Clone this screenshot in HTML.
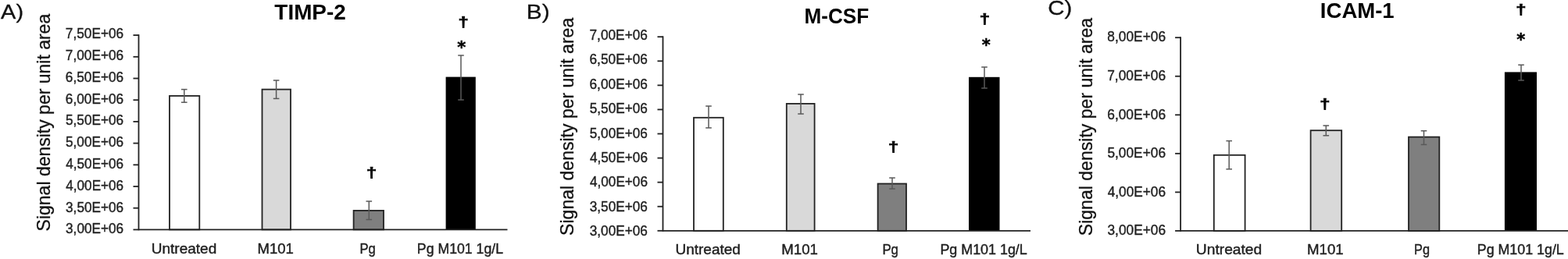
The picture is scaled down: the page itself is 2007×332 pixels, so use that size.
<!DOCTYPE html>
<html lang="en"><head><meta charset="utf-8"><title>Signal density charts</title>
<style>html,body{margin:0;padding:0;background:#fff;overflow:hidden}svg{display:block}text{font-family:'Liberation Sans', sans-serif;font-kerning:none}</style>
</head><body>
<svg xmlns="http://www.w3.org/2000/svg" width="2007" height="332" viewBox="0 0 2007 332">
<rect x="0" y="0" width="2007" height="332" fill="#fff"/>
<g>
<text x="1.14" y="23.8" font-size="25.5" text-anchor="start" fill="#111" textLength="28.95" lengthAdjust="spacingAndGlyphs" stroke="#111" stroke-width="0.3">A)</text>
<text x="351.39" y="24.5" font-size="27.5" font-weight="bold" text-anchor="start" fill="#000" textLength="91.33" lengthAdjust="spacingAndGlyphs">TIMP-2</text>
<text transform="translate(64.3,296.4) rotate(-90)" x="0" y="0" font-size="24" textLength="278.6" lengthAdjust="spacingAndGlyphs" fill="#111" stroke="#111" stroke-width="0.3">Signal density per unit area</text>
<rect x="217" y="122.9" width="38.3" height="171.5" fill="#fff" stroke="#222" stroke-width="1.8"/>
<rect x="335.5" y="114.6" width="36.5" height="179.8" fill="#d9d9d9" stroke="#222" stroke-width="1.8"/>
<rect x="452.6" y="269.9" width="38.4" height="24.5" fill="#7f7f7f" stroke="#222" stroke-width="1.8"/>
<rect x="570.6" y="98.6" width="38.2" height="195.8" fill="#000"/>
<line x1="177.5" y1="44.2" x2="177.5" y2="295.3" stroke="#222" stroke-width="1.8"/>
<line x1="177.5" y1="294.4" x2="649.5" y2="294.4" stroke="#222" stroke-width="1.8"/>
<line x1="170.5" y1="45.1" x2="177.5" y2="45.1" stroke="#222" stroke-width="1.8"/>
<text x="83.82" y="49.19" font-size="19" text-anchor="start" fill="#1f1f1f" textLength="74.34" lengthAdjust="spacingAndGlyphs" stroke="#1f1f1f" stroke-width="0.42">7,50E+06</text>
<line x1="170.5" y1="72.8" x2="177.5" y2="72.8" stroke="#222" stroke-width="1.8"/>
<text x="83.82" y="77.0" font-size="19" text-anchor="start" fill="#1f1f1f" textLength="74.34" lengthAdjust="spacingAndGlyphs" stroke="#1f1f1f" stroke-width="0.42">7,00E+06</text>
<line x1="170.5" y1="100.5" x2="177.5" y2="100.5" stroke="#222" stroke-width="1.8"/>
<text x="83.82" y="104.81" font-size="19" text-anchor="start" fill="#1f1f1f" textLength="74.33" lengthAdjust="spacingAndGlyphs" stroke="#1f1f1f" stroke-width="0.42">6,50E+06</text>
<line x1="170.5" y1="128.2" x2="177.5" y2="128.2" stroke="#222" stroke-width="1.8"/>
<text x="83.82" y="132.62" font-size="19" text-anchor="start" fill="#1f1f1f" textLength="74.33" lengthAdjust="spacingAndGlyphs" stroke="#1f1f1f" stroke-width="0.42">6,00E+06</text>
<line x1="170.5" y1="155.9" x2="177.5" y2="155.9" stroke="#222" stroke-width="1.8"/>
<text x="84.01" y="160.43" font-size="19" text-anchor="start" fill="#1f1f1f" textLength="74.14" lengthAdjust="spacingAndGlyphs" stroke="#1f1f1f" stroke-width="0.42">5,50E+06</text>
<line x1="170.5" y1="183.6" x2="177.5" y2="183.6" stroke="#222" stroke-width="1.8"/>
<text x="84.01" y="188.24" font-size="19" text-anchor="start" fill="#1f1f1f" textLength="74.14" lengthAdjust="spacingAndGlyphs" stroke="#1f1f1f" stroke-width="0.42">5,00E+06</text>
<line x1="170.5" y1="211.3" x2="177.5" y2="211.3" stroke="#222" stroke-width="1.8"/>
<text x="84.31" y="216.05" font-size="19" text-anchor="start" fill="#1f1f1f" textLength="73.85" lengthAdjust="spacingAndGlyphs" stroke="#1f1f1f" stroke-width="0.42">4,50E+06</text>
<line x1="170.5" y1="239.0" x2="177.5" y2="239.0" stroke="#222" stroke-width="1.8"/>
<text x="84.31" y="243.86" font-size="19" text-anchor="start" fill="#1f1f1f" textLength="73.85" lengthAdjust="spacingAndGlyphs" stroke="#1f1f1f" stroke-width="0.42">4,00E+06</text>
<line x1="170.5" y1="266.7" x2="177.5" y2="266.7" stroke="#222" stroke-width="1.8"/>
<text x="84.05" y="271.67" font-size="19" text-anchor="start" fill="#1f1f1f" textLength="74.11" lengthAdjust="spacingAndGlyphs" stroke="#1f1f1f" stroke-width="0.42">3,50E+06</text>
<line x1="170.5" y1="294.4" x2="177.5" y2="294.4" stroke="#222" stroke-width="1.8"/>
<text x="84.05" y="299.49" font-size="19" text-anchor="start" fill="#1f1f1f" textLength="74.11" lengthAdjust="spacingAndGlyphs" stroke="#1f1f1f" stroke-width="0.42">3,00E+06</text>
<line x1="235.8" y1="114.6" x2="235.8" y2="131.2" stroke="#595959" stroke-width="1.5"/>
<line x1="232.0" y1="114.6" x2="239.60000000000002" y2="114.6" stroke="#595959" stroke-width="1.5"/>
<line x1="232.0" y1="131.2" x2="239.60000000000002" y2="131.2" stroke="#595959" stroke-width="1.5"/>
<line x1="353.6" y1="103" x2="353.6" y2="126.4" stroke="#595959" stroke-width="1.5"/>
<line x1="349.8" y1="103" x2="357.40000000000003" y2="103" stroke="#595959" stroke-width="1.5"/>
<line x1="349.8" y1="126.4" x2="357.40000000000003" y2="126.4" stroke="#595959" stroke-width="1.5"/>
<line x1="472.3" y1="258" x2="472.3" y2="281.5" stroke="#595959" stroke-width="1.5"/>
<line x1="468.5" y1="258" x2="476.1" y2="258" stroke="#595959" stroke-width="1.5"/>
<line x1="468.5" y1="281.5" x2="476.1" y2="281.5" stroke="#595959" stroke-width="1.5"/>
<line x1="590" y1="71" x2="590" y2="128" stroke="#595959" stroke-width="1.5"/>
<line x1="586.2" y1="71" x2="593.8" y2="71" stroke="#595959" stroke-width="1.5"/>
<line x1="586.2" y1="128" x2="593.8" y2="128" stroke="#595959" stroke-width="1.5"/>
<text x="193.73" y="324.9" font-size="18.2" text-anchor="start" fill="#1f1f1f" textLength="83.49" lengthAdjust="spacingAndGlyphs" stroke="#1f1f1f" stroke-width="0.42">Untreated</text>
<text x="329.48" y="324.9" font-size="18.2" text-anchor="start" fill="#1f1f1f" textLength="46.43" lengthAdjust="spacingAndGlyphs" stroke="#1f1f1f" stroke-width="0.42">M101</text>
<text x="460.44" y="324.9" font-size="18.2" text-anchor="start" fill="#1f1f1f" textLength="20.34" lengthAdjust="spacingAndGlyphs" stroke="#1f1f1f" stroke-width="0.42">Pg</text>
<text x="533.85" y="324.9" font-size="18.2" text-anchor="start" fill="#1f1f1f" textLength="110.14" lengthAdjust="spacingAndGlyphs" stroke="#1f1f1f" stroke-width="0.42">Pg M101 1g/L</text>
<text transform="translate(593,33.72) scale(1.25,1)" x="0" y="0" font-size="19" font-weight="bold" text-anchor="middle" fill="#000" stroke="#000" stroke-width="0.7">†</text>
<text transform="translate(475.7,227.42) scale(1.25,1)" x="0" y="0" font-size="19" font-weight="bold" text-anchor="middle" fill="#000" stroke="#000" stroke-width="0.7">†</text>
<text x="590.8" y="68.16" font-size="21" font-weight="bold" text-anchor="middle" fill="#000" stroke="#000" stroke-width="0.5" style="font-family:'DejaVu Sans','Liberation Sans',sans-serif">*</text>
</g>
<g>
<text x="673.85" y="24.1" font-size="25.5" text-anchor="start" fill="#111" textLength="29.91" lengthAdjust="spacingAndGlyphs" stroke="#111" stroke-width="0.3">B)</text>
<text x="1029.45" y="29.9" font-size="27.5" font-weight="bold" text-anchor="start" fill="#000" textLength="82.81" lengthAdjust="spacingAndGlyphs">M-CSF</text>
<text transform="translate(734.1,301.9) rotate(-90)" x="0" y="0" font-size="24" textLength="279.1" lengthAdjust="spacingAndGlyphs" fill="#111" stroke="#111" stroke-width="0.3">Signal density per unit area</text>
<rect x="888" y="150.8" width="37.8" height="145.0" fill="#fff" stroke="#222" stroke-width="1.8"/>
<rect x="1006.8" y="132.9" width="35.8" height="162.9" fill="#d9d9d9" stroke="#222" stroke-width="1.8"/>
<rect x="1123.6" y="235.5" width="36.4" height="60.3" fill="#7f7f7f" stroke="#222" stroke-width="1.8"/>
<rect x="1240" y="98.8" width="39.5" height="197.0" fill="#000"/>
<line x1="848.5" y1="46.3" x2="848.5" y2="296.7" stroke="#222" stroke-width="1.8"/>
<line x1="848.5" y1="295.8" x2="1319" y2="295.8" stroke="#222" stroke-width="1.8"/>
<line x1="841.5" y1="47.2" x2="848.5" y2="47.2" stroke="#222" stroke-width="1.8"/>
<text x="754.51" y="50.99" font-size="19" text-anchor="start" fill="#1f1f1f" textLength="74.44" lengthAdjust="spacingAndGlyphs" stroke="#1f1f1f" stroke-width="0.42">7,00E+06</text>
<line x1="841.5" y1="78.28" x2="848.5" y2="78.28" stroke="#222" stroke-width="1.8"/>
<text x="754.52" y="82.37" font-size="19" text-anchor="start" fill="#1f1f1f" textLength="74.44" lengthAdjust="spacingAndGlyphs" stroke="#1f1f1f" stroke-width="0.42">6,50E+06</text>
<line x1="841.5" y1="109.35" x2="848.5" y2="109.35" stroke="#222" stroke-width="1.8"/>
<text x="754.52" y="113.76" font-size="19" text-anchor="start" fill="#1f1f1f" textLength="74.44" lengthAdjust="spacingAndGlyphs" stroke="#1f1f1f" stroke-width="0.42">6,00E+06</text>
<line x1="841.5" y1="140.43" x2="848.5" y2="140.43" stroke="#222" stroke-width="1.8"/>
<text x="754.71" y="145.15" font-size="19" text-anchor="start" fill="#1f1f1f" textLength="74.25" lengthAdjust="spacingAndGlyphs" stroke="#1f1f1f" stroke-width="0.42">5,50E+06</text>
<line x1="841.5" y1="171.5" x2="848.5" y2="171.5" stroke="#222" stroke-width="1.8"/>
<text x="754.71" y="176.54" font-size="19" text-anchor="start" fill="#1f1f1f" textLength="74.25" lengthAdjust="spacingAndGlyphs" stroke="#1f1f1f" stroke-width="0.42">5,00E+06</text>
<line x1="841.5" y1="202.57" x2="848.5" y2="202.57" stroke="#222" stroke-width="1.8"/>
<text x="755.01" y="207.92" font-size="19" text-anchor="start" fill="#1f1f1f" textLength="73.95" lengthAdjust="spacingAndGlyphs" stroke="#1f1f1f" stroke-width="0.42">4,50E+06</text>
<line x1="841.5" y1="233.65" x2="848.5" y2="233.65" stroke="#222" stroke-width="1.8"/>
<text x="755.01" y="239.31" font-size="19" text-anchor="start" fill="#1f1f1f" textLength="73.95" lengthAdjust="spacingAndGlyphs" stroke="#1f1f1f" stroke-width="0.42">4,00E+06</text>
<line x1="841.5" y1="264.73" x2="848.5" y2="264.73" stroke="#222" stroke-width="1.8"/>
<text x="754.74" y="270.7" font-size="19" text-anchor="start" fill="#1f1f1f" textLength="74.21" lengthAdjust="spacingAndGlyphs" stroke="#1f1f1f" stroke-width="0.42">3,50E+06</text>
<line x1="841.5" y1="295.8" x2="848.5" y2="295.8" stroke="#222" stroke-width="1.8"/>
<text x="754.74" y="302.09" font-size="19" text-anchor="start" fill="#1f1f1f" textLength="74.21" lengthAdjust="spacingAndGlyphs" stroke="#1f1f1f" stroke-width="0.42">3,00E+06</text>
<line x1="907" y1="136" x2="907" y2="163.9" stroke="#595959" stroke-width="1.5"/>
<line x1="903.2" y1="136" x2="910.8" y2="136" stroke="#595959" stroke-width="1.5"/>
<line x1="903.2" y1="163.9" x2="910.8" y2="163.9" stroke="#595959" stroke-width="1.5"/>
<line x1="1025" y1="121" x2="1025" y2="146" stroke="#595959" stroke-width="1.5"/>
<line x1="1021.2" y1="121" x2="1028.8" y2="121" stroke="#595959" stroke-width="1.5"/>
<line x1="1021.2" y1="146" x2="1028.8" y2="146" stroke="#595959" stroke-width="1.5"/>
<line x1="1142" y1="228" x2="1142" y2="242" stroke="#595959" stroke-width="1.5"/>
<line x1="1138.2" y1="228" x2="1145.8" y2="228" stroke="#595959" stroke-width="1.5"/>
<line x1="1138.2" y1="242" x2="1145.8" y2="242" stroke="#595959" stroke-width="1.5"/>
<line x1="1260" y1="86" x2="1260" y2="113" stroke="#595959" stroke-width="1.5"/>
<line x1="1256.2" y1="86" x2="1263.8" y2="86" stroke="#595959" stroke-width="1.5"/>
<line x1="1256.2" y1="113" x2="1263.8" y2="113" stroke="#595959" stroke-width="1.5"/>
<text x="864.43" y="326.2" font-size="18.2" text-anchor="start" fill="#1f1f1f" textLength="83.49" lengthAdjust="spacingAndGlyphs" stroke="#1f1f1f" stroke-width="0.42">Untreated</text>
<text x="1000.27" y="326.2" font-size="18.2" text-anchor="start" fill="#1f1f1f" textLength="46.75" lengthAdjust="spacingAndGlyphs" stroke="#1f1f1f" stroke-width="0.42">M101</text>
<text x="1129.42" y="326.2" font-size="18.2" text-anchor="start" fill="#1f1f1f" textLength="20.56" lengthAdjust="spacingAndGlyphs" stroke="#1f1f1f" stroke-width="0.42">Pg</text>
<text x="1203.43" y="326.2" font-size="18.2" text-anchor="start" fill="#1f1f1f" textLength="111.36" lengthAdjust="spacingAndGlyphs" stroke="#1f1f1f" stroke-width="0.42">Pg M101 1g/L</text>
<text transform="translate(1260.3,30.42) scale(1.25,1)" x="0" y="0" font-size="19" font-weight="bold" text-anchor="middle" fill="#000" stroke="#000" stroke-width="0.7">†</text>
<text transform="translate(1143.5,193.92) scale(1.25,1)" x="0" y="0" font-size="19" font-weight="bold" text-anchor="middle" fill="#000" stroke="#000" stroke-width="0.7">†</text>
<text x="1262.2" y="64.71" font-size="21" font-weight="bold" text-anchor="middle" fill="#000" stroke="#000" stroke-width="0.5" style="font-family:'DejaVu Sans','Liberation Sans',sans-serif">*</text>
</g>
<g>
<text x="1341.21" y="19.2" font-size="25.5" text-anchor="start" fill="#111" textLength="31.02" lengthAdjust="spacingAndGlyphs" stroke="#111" stroke-width="0.3">C)</text>
<text x="1689.86" y="23.2" font-size="27.5" font-weight="bold" text-anchor="start" fill="#000" textLength="94.81" lengthAdjust="spacingAndGlyphs">ICAM-1</text>
<text transform="translate(1397.8,302.2) rotate(-90)" x="0" y="0" font-size="24" textLength="279.4" lengthAdjust="spacingAndGlyphs" fill="#111" stroke="#111" stroke-width="0.3">Signal density per unit area</text>
<rect x="1553.8" y="198.8" width="39.8" height="97.1" fill="#fff" stroke="#222" stroke-width="1.8"/>
<rect x="1677.6" y="167.2" width="39.6" height="128.7" fill="#d9d9d9" stroke="#222" stroke-width="1.8"/>
<rect x="1803" y="175.6" width="39.3" height="120.3" fill="#7f7f7f" stroke="#222" stroke-width="1.8"/>
<rect x="1925.9" y="92.4" width="41.1" height="203.5" fill="#000"/>
<line x1="1511.1" y1="47.3" x2="1511.1" y2="296.8" stroke="#222" stroke-width="1.8"/>
<line x1="1511.1" y1="295.9" x2="2007" y2="295.9" stroke="#222" stroke-width="1.8"/>
<line x1="1504.1" y1="48.2" x2="1511.1" y2="48.2" stroke="#222" stroke-width="1.8"/>
<text x="1417.35" y="53.34" font-size="19" text-anchor="start" fill="#1f1f1f" textLength="74.72" lengthAdjust="spacingAndGlyphs" stroke="#1f1f1f" stroke-width="0.42">8,00E+06</text>
<line x1="1504.1" y1="97.74" x2="1511.1" y2="97.74" stroke="#222" stroke-width="1.8"/>
<text x="1417.21" y="102.97" font-size="19" text-anchor="start" fill="#1f1f1f" textLength="74.85" lengthAdjust="spacingAndGlyphs" stroke="#1f1f1f" stroke-width="0.42">7,00E+06</text>
<line x1="1504.1" y1="147.28" x2="1511.1" y2="147.28" stroke="#222" stroke-width="1.8"/>
<text x="1417.22" y="152.6" font-size="19" text-anchor="start" fill="#1f1f1f" textLength="74.85" lengthAdjust="spacingAndGlyphs" stroke="#1f1f1f" stroke-width="0.42">6,00E+06</text>
<line x1="1504.1" y1="196.82" x2="1511.1" y2="196.82" stroke="#222" stroke-width="1.8"/>
<text x="1417.41" y="202.23" font-size="19" text-anchor="start" fill="#1f1f1f" textLength="74.65" lengthAdjust="spacingAndGlyphs" stroke="#1f1f1f" stroke-width="0.42">5,00E+06</text>
<line x1="1504.1" y1="246.36" x2="1511.1" y2="246.36" stroke="#222" stroke-width="1.8"/>
<text x="1417.7" y="251.86" font-size="19" text-anchor="start" fill="#1f1f1f" textLength="74.35" lengthAdjust="spacingAndGlyphs" stroke="#1f1f1f" stroke-width="0.42">4,00E+06</text>
<line x1="1504.1" y1="295.9" x2="1511.1" y2="295.9" stroke="#222" stroke-width="1.8"/>
<text x="1417.44" y="301.49" font-size="19" text-anchor="start" fill="#1f1f1f" textLength="74.62" lengthAdjust="spacingAndGlyphs" stroke="#1f1f1f" stroke-width="0.42">3,00E+06</text>
<line x1="1573.2" y1="180.6" x2="1573.2" y2="216.8" stroke="#595959" stroke-width="1.5"/>
<line x1="1569.4" y1="180.6" x2="1577.0" y2="180.6" stroke="#595959" stroke-width="1.5"/>
<line x1="1569.4" y1="216.8" x2="1577.0" y2="216.8" stroke="#595959" stroke-width="1.5"/>
<line x1="1697.3" y1="161" x2="1697.3" y2="173.8" stroke="#595959" stroke-width="1.5"/>
<line x1="1693.5" y1="161" x2="1701.1" y2="161" stroke="#595959" stroke-width="1.5"/>
<line x1="1693.5" y1="173.8" x2="1701.1" y2="173.8" stroke="#595959" stroke-width="1.5"/>
<line x1="1822.5" y1="167.7" x2="1822.5" y2="185.4" stroke="#595959" stroke-width="1.5"/>
<line x1="1818.7" y1="167.7" x2="1826.3" y2="167.7" stroke="#595959" stroke-width="1.5"/>
<line x1="1818.7" y1="185.4" x2="1826.3" y2="185.4" stroke="#595959" stroke-width="1.5"/>
<line x1="1947" y1="83.2" x2="1947" y2="103" stroke="#595959" stroke-width="1.5"/>
<line x1="1943.2" y1="83.2" x2="1950.8" y2="83.2" stroke="#595959" stroke-width="1.5"/>
<line x1="1943.2" y1="103" x2="1950.8" y2="103" stroke="#595959" stroke-width="1.5"/>
<text x="1530.82" y="326.2" font-size="18.2" text-anchor="start" fill="#1f1f1f" textLength="84.42" lengthAdjust="spacingAndGlyphs" stroke="#1f1f1f" stroke-width="0.42">Untreated</text>
<text x="1672.97" y="326.2" font-size="18.2" text-anchor="start" fill="#1f1f1f" textLength="46.75" lengthAdjust="spacingAndGlyphs" stroke="#1f1f1f" stroke-width="0.42">M101</text>
<text x="1810.07" y="326.2" font-size="18.2" text-anchor="start" fill="#1f1f1f" textLength="19.88" lengthAdjust="spacingAndGlyphs" stroke="#1f1f1f" stroke-width="0.42">Pg</text>
<text x="1890.74" y="326.2" font-size="18.2" text-anchor="start" fill="#1f1f1f" textLength="111.06" lengthAdjust="spacingAndGlyphs" stroke="#1f1f1f" stroke-width="0.42">Pg M101 1g/L</text>
<text transform="translate(1946.9,18.42) scale(1.25,1)" x="0" y="0" font-size="19" font-weight="bold" text-anchor="middle" fill="#000" stroke="#000" stroke-width="0.7">†</text>
<text transform="translate(1695.9,139.42) scale(1.25,1)" x="0" y="0" font-size="19" font-weight="bold" text-anchor="middle" fill="#000" stroke="#000" stroke-width="0.7">†</text>
<text x="1946.7" y="57.91" font-size="21" font-weight="bold" text-anchor="middle" fill="#000" stroke="#000" stroke-width="0.5" style="font-family:'DejaVu Sans','Liberation Sans',sans-serif">*</text>
</g>
</svg>
</body></html>
